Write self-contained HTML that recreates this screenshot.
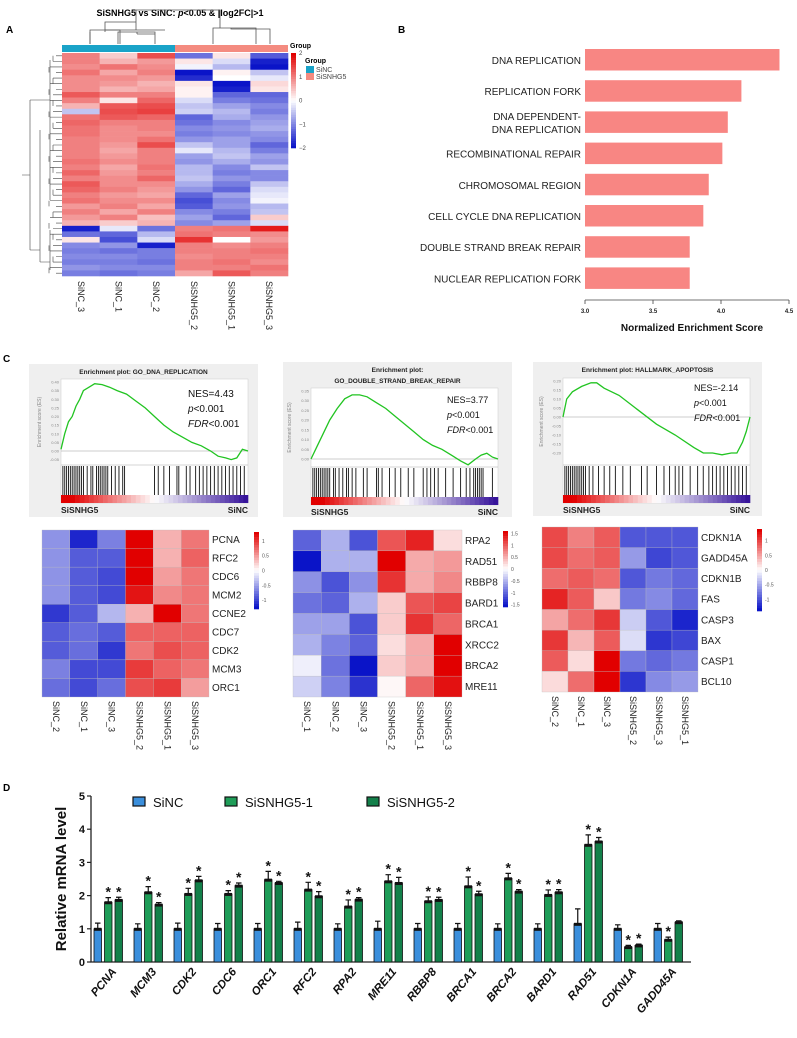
<!DOCTYPE html>
<html><head><meta charset="utf-8"><style>
html,body{margin:0;padding:0;background:#fff}
svg{display:block;font-family:"Liberation Sans",sans-serif}
</style></head><body>
<svg id="fig" width="797" height="1038" viewBox="0 0 797 1038" xmlns="http://www.w3.org/2000/svg">
<g id="pA">
<text x="6" y="33" font-size="10" font-weight="bold">A</text>
<text x="180" y="16" font-size="9" font-weight="bold" text-anchor="middle">SiSNHG5 vs SiNC: <tspan font-style="italic">p</tspan>&lt;0.05 &amp; |log2FC|&gt;1</text>
<rect x="62" y="45" width="113" height="7" fill="#1aa3c8"/>
<rect x="175" y="45" width="113" height="7" fill="#f48b80"/>
<path d="M118,44V32H155V44 M137,32V34H137 M90,44V32 M137,34V34 M137,34H155 M105,32V30H165 M213,44V28H256V44 M231,28V29H270V44 M242,29V29 M136,30V10H220V28" fill="none" stroke="#555" stroke-width="0.8"/>
<path d="M90,44V30H120V44 M105,30V22H136" fill="none" stroke="#555" stroke-width="0.8"/>
<text x="290" y="48" font-size="7" font-weight="bold">Group</text>
<text x="305" y="63" font-size="7" font-weight="bold">Group</text>
<rect x="306" y="66" width="8" height="7" fill="#1aa3c8"/>
<text x="316" y="72" font-size="7" fill="#444">SiNC</text>
<rect x="306" y="73" width="8" height="7" fill="#f48b80"/>
<text x="316" y="79" font-size="7" fill="#444">SiSNHG5</text>
</g>
<g id="pB">
<text x="398" y="33" font-size="10" font-weight="bold">B</text>
</g>
<g id="pC">
<text x="3" y="362" font-size="10" font-weight="bold">C</text>
</g>
<g id="pD">
<text x="3" y="791" font-size="10" font-weight="bold">D</text>
</g>
</svg>
<script>
var NS="http://www.w3.org/2000/svg";
function mk(tag,attrs,parent){var e=document.createElementNS(NS,tag);for(var k in attrs)e.setAttribute(k,attrs[k]);(parent||document.getElementById('fig')).appendChild(e);return e;}
function col(v,m){var t=Math.max(-1,Math.min(1,v/m));if(t>=0){return 'rgb('+Math.round(255-30*t)+','+Math.round(255-255*t)+','+Math.round(255-255*t)+')';}t=-t;return 'rgb('+Math.round(255-245*t)+','+Math.round(255-235*t)+','+Math.round(255-55*t)+')';}

/* ---------- Panel A data ---------- */
var aCols=["SiNC_3","SiNC_1","SiNC_2","SiSNHG5_2","SiSNHG5_1","SiSNHG5_3"];
var aRows=[[1.0,0.4,1.4,-1.2,0.2,-1.4],[1.0,0.6,0.8,0.2,-0.3,-1.9],[0.9,1.1,0.9,-0.1,-0.6,-2],[1.1,0.7,1.0,-2,0.1,-0.5],[0.9,0.9,0.8,-1.8,0.0,-0.2],[0.9,0.8,0.6,0.2,-2,0.3],[0.9,0.6,0.7,0.1,-1.9,0.2],[1.3,1.0,1.0,0.1,-1.3,-1.3],[1.0,0.2,1.2,-0.3,-1.1,-1.2],[0.6,1.3,1.4,-0.5,-0.8,-1.0],[-0.5,1.4,1.5,-0.4,-0.6,-1.1],[1.1,1.3,1.2,-1.3,-0.7,-0.9],[1.2,1.0,1.0,-1.2,-1.0,-0.8],[1.1,0.9,1.0,-1.0,-0.9,-0.7],[1.1,0.9,0.9,-1.1,-1.0,-0.9],[1.0,0.9,1.1,-0.9,-0.8,-1.0],[1.0,0.8,1.4,-0.5,-0.8,-1.3],[1.0,0.7,1.0,-0.2,-0.6,-1.1],[1.0,0.8,1.0,-0.8,-0.5,-0.8],[1.1,0.9,1.0,-0.9,-0.7,-0.9],[1.0,0.7,1.1,-0.6,-1.0,-0.5],[1.2,0.8,1.0,-0.6,-1.1,-1.0],[1.0,0.9,1.2,-0.5,-0.9,-1.0],[1.3,0.9,0.9,-0.7,-1.1,-0.5],[1.2,1.0,0.8,-0.9,-1.3,-0.3],[1.0,0.8,0.7,-1.3,-0.8,-0.2],[1.1,0.9,0.9,-1.5,-1.0,-0.1],[0.8,1.0,0.7,-1.4,-0.9,-0.6],[1.0,0.7,1.0,-1.0,-1.1,-0.5],[0.8,1.0,0.5,-0.8,-1.3,0.4],[0.6,0.4,0.6,-1.0,-0.8,-0.3],[-1.9,-0.2,-1.2,1.0,1.1,1.8],[-1.2,-1.3,-0.6,1.1,1.0,0.9],[0.2,-1.5,-0.3,1.6,0.0,0.8],[-1.0,-0.9,-1.9,1.0,0.9,1.0],[-1.1,-1.2,-1.1,1.0,1.0,1.1],[-1.0,-1.0,-1.1,0.9,1.0,1.0],[-1.1,-1.1,-1.2,1.0,1.1,0.9],[-0.9,-1.0,-1.0,1.0,1.0,1.1],[-1.1,-1.2,-1.1,0.7,1.3,1.0]];
var aTicks=[2,1,0,-1,-2];

/* ---------- Panel B data ---------- */
var bTerms=["DNA REPLICATION","REPLICATION FORK","DNA DEPENDENT-|DNA REPLICATION","RECOMBINATIONAL REPAIR","CHROMOSOMAL REGION","CELL CYCLE DNA REPLICATION","DOUBLE STRAND BREAK REPAIR","NUCLEAR REPLICATION FORK"];
var bNES=[4.43,4.15,4.05,4.01,3.91,3.87,3.77,3.77];
var bTicks=[3.0,3.5,4.0,4.5];

/* ---------- Panel C data ---------- */
var g1X=[0,0.02,0.04,0.06,0.08,0.1,0.12,0.15,0.18,0.22,0.26,0.3,0.35,0.4,0.45,0.5,0.55,0.6,0.65,0.7,0.75,0.8,0.84,0.88,0.91,0.94,0.97,1.0];
var g1Y=[0.01,0.1,0.17,0.2,0.26,0.3,0.35,0.37,0.39,0.385,0.37,0.35,0.33,0.29,0.25,0.2,0.15,0.11,0.08,0.05,0.03,0.0,-0.03,-0.04,-0.05,-0.04,0.01,0.0];
var g2X=[0,0.03,0.06,0.1,0.14,0.18,0.22,0.26,0.3,0.35,0.4,0.45,0.5,0.55,0.6,0.65,0.7,0.75,0.8,0.84,0.88,0.91,0.94,0.97,1.0];
var g2Y=[0,0.06,0.12,0.2,0.26,0.31,0.33,0.33,0.32,0.29,0.26,0.22,0.18,0.14,0.1,0.07,0.05,0.02,-0.01,-0.03,0.0,0.02,0.03,0.01,0.0];
var g3X=[0,0.02,0.05,0.1,0.15,0.18,0.22,0.3,0.4,0.5,0.6,0.7,0.75,0.8,0.85,0.9,0.93,0.96,0.98,1.0];
var g3Y=[0.0,0.1,0.14,0.17,0.19,0.19,0.16,0.12,0.04,-0.04,-0.1,-0.17,-0.2,-0.2,-0.21,-0.2,-0.2,-0.14,-0.08,0.0];
var h1=[0.01,0.02,0.03,0.04,0.05,0.06,0.07,0.08,0.09,0.1,0.11,0.12,0.14,0.16,0.17,0.19,0.2,0.21,0.22,0.23,0.24,0.25,0.27,0.29,0.31,0.33,0.34,0.5,0.52,0.55,0.58,0.62,0.63,0.67,0.69,0.72,0.74,0.76,0.78,0.8,0.82,0.84,0.86,0.88,0.9,0.92,0.94,0.96,0.98];
var h2=[0.01,0.02,0.03,0.04,0.05,0.06,0.07,0.08,0.09,0.1,0.12,0.13,0.15,0.17,0.19,0.2,0.22,0.24,0.28,0.3,0.35,0.36,0.38,0.42,0.45,0.48,0.52,0.55,0.6,0.62,0.64,0.66,0.68,0.72,0.76,0.8,0.83,0.85,0.87,0.88,0.89,0.9,0.91,0.92,0.97];
var h3=[0.01,0.02,0.03,0.04,0.05,0.06,0.07,0.08,0.09,0.1,0.11,0.12,0.14,0.16,0.19,0.22,0.25,0.28,0.32,0.36,0.42,0.45,0.5,0.54,0.57,0.6,0.62,0.64,0.68,0.72,0.75,0.78,0.8,0.82,0.84,0.86,0.88,0.9,0.92,0.94,0.96,0.98];
var c1Genes=["PCNA","RFC2","CDC6","MCM2","CCNE2","CDC7","CDK2","MCM3","ORC1"];
var c1Cols=["SiNC_2","SiNC_1","SiNC_3","SiSNHG5_2","SiSNHG5_1","SiSNHG5_3"];
var c1Vals=[[-0.6,-1.2,-0.7,1.3,0.4,0.7],[-0.6,-0.9,-0.9,1.3,0.4,0.8],[-0.6,-0.9,-1.0,1.3,0.5,0.7],[-0.6,-0.9,-1.0,1.2,0.6,0.7],[-1.1,-0.9,-0.4,0.4,1.3,0.7],[-0.9,-0.8,-0.9,0.8,0.8,0.8],[-0.9,-0.8,-1.1,0.7,0.9,0.8],[-0.7,-1.0,-1.0,1.0,0.8,0.7],[-0.8,-1.0,-0.8,0.9,1.0,0.5]];
var c2Genes=["RPA2","RAD51","RBBP8","BARD1","BRCA1","XRCC2","BRCA2","MRE11"];
var c2Cols=["SiNC_1","SiNC_2","SiNC_3","SiSNHG5_2","SiSNHG5_1","SiSNHG5_3"];
var c2Vals=[[-1.0,-0.5,-1.1,1.0,1.3,0.2],[-1.5,-0.5,-0.5,1.5,0.5,0.6],[-0.7,-1.1,-0.7,1.2,0.5,0.7],[-0.9,-1.0,-0.5,0.3,1.0,1.1],[-0.6,-0.6,-1.1,0.3,1.2,0.9],[-0.5,-0.8,-1.0,0.2,0.5,1.5],[-0.1,-0.9,-1.5,0.3,0.5,1.5],[-0.3,-0.8,-1.3,0.05,0.9,1.4]];
var c3Genes=["CDKN1A","GADD45A","CDKN1B","FAS","CASP3","BAX","CASP1","BCL10"];
var c3Cols=["SiNC_2","SiNC_1","SiNC_3","SiSNHG5_2","SiSNHG5_3","SiSNHG5_1"];
var c3Vals=[[1.0,0.7,0.9,-1.0,-1.0,-1.0],[1.0,0.8,0.9,-0.6,-1.1,-1.0],[0.8,0.9,0.8,-1.0,-0.8,-0.9],[1.2,0.9,0.3,-0.8,-0.7,-0.9],[0.5,0.8,1.1,-0.3,-1.0,-1.3],[1.1,0.4,0.9,-0.2,-1.2,-1.1],[0.9,0.2,1.4,-0.8,-0.9,-0.8],[0.2,0.8,1.5,-1.2,-0.7,-0.6]];

/* ---------- Panel D data ---------- */
var dGenes=["PCNA","MCM3","CDK2","CDC6","ORC1","RFC2","RPA2","MRE11","RBBP8","BRCA1","BRCA2","BARD1","RAD51","CDKN1A","GADD45A"];
var dSiNC=[1,1,1,1,1,1,1,1,1,1,1,1,1.15,1,1];
var dSi1=[1.8,2.1,2.05,2.05,2.48,2.18,1.67,2.43,1.83,2.28,2.52,2.02,3.53,0.45,0.67];
var dSi2=[1.87,1.73,2.46,2.3,2.38,1.98,1.88,2.38,1.87,2.04,2.12,2.1,3.63,0.5,1.2];
var dErrNC=[0.17,0.15,0.17,0.16,0.16,0.2,0.15,0.23,0.16,0.16,0.15,0.15,0.45,0.12,0.16];
var dErr1=[0.14,0.17,0.17,0.1,0.25,0.22,0.2,0.2,0.13,0.28,0.15,0.15,0.3,0.05,0.08];
var dErr2=[0.08,0.06,0.12,0.08,0.05,0.14,0.06,0.17,0.08,0.09,0.06,0.08,0.12,0.04,0.04];
var dStar1=[1,1,1,1,1,1,1,1,1,1,1,1,1,1,1];
var dStar2=[1,1,1,1,1,1,1,1,1,1,1,1,1,1,0];
var dTicks=[0,1,2,3,4,5];

/* ===== Panel A render ===== */
(function(){
var g=document.getElementById('pA');
var x0=62,x1=288,y0=53,y1=276,cw=(x1-x0)/aCols.length,rh=(y1-y0)/aRows.length;
aRows.forEach(function(r,i){r.forEach(function(v,j){
 var c=mk('rect',{x:x0+j*cw,y:y0+i*rh,width:cw+0.3,height:rh+0.3,fill:col(v,2)},g);
 
 
});});
/* row dendrogram */
var d='';
aRows.forEach(function(r,i){var y=y0+(i+0.5)*rh;d+='M'+x0+','+y+'H'+(x0-6-(i%3)*3);});
for(var i=0;i<aRows.length-1;i+=2){var ya=y0+(i+0.5)*rh,yb=y0+(i+1.5)*rh;var xx=x0-9-(i%4)*2;d+='M'+xx+','+ya+'V'+yb;}
d+='M50,60V200M40,130V262M50,230V270M30,100V250M22,175H30M30,100H50M30,250H40M40,262H50';
var dp=mk('path',{d:d,fill:'none',stroke:'#444','stroke-width':0.6},g);


aCols.forEach(function(n,j){
 var t=mk('text',{x:0,y:0,'font-size':9,fill:'#222',transform:'translate('+(x0+(j+0.5)*cw-3)+',281) rotate(90)'},g);
 t.textContent=n;
 
 
});
/* color bar */
var cb0=53,cb1=148;
for(var k=0;k<40;k++){var v=2-4*k/39;var s=mk('rect',{x:291,y:cb0+k*(cb1-cb0)/40,width:5,height:(cb1-cb0)/40+0.3,fill:col(v,2)},g);
 
 }
aTicks.forEach(function(v){var t=mk('text',{x:299,y:cb0+(2-v)/4*(cb1-cb0)+2,'font-size':6,fill:'#444'},g);
 t.textContent=v<0?'\u2212'+(-v):String(v);
 
 });
})();

/* ===== Panel B render ===== */
(function(){
var g=document.getElementById('pB');
var xa=585,xb=789;function sx(v){return xa+(v-3)/(1.5)*(xb-xa);}
bTerms.forEach(function(t,i){
 var y=49+i*31.2;
 var r=mk('rect',{x:sx(3),y:y,width:sx(bNES[i])-sx(3),height:21.5,fill:'#f88683'},g);
 
 
 var parts=t.split('|');
 parts.forEach(function(p,k){
  var tx=mk('text',{x:581,y:y+15+(parts.length>1?(k*13-6.5):0),'font-size':10,fill:'#222','text-anchor':'end'},g);
  tx.textContent=p;
  
  
 });
});
var ax=mk('path',{d:'M'+sx(3)+',300H'+sx(4.5),stroke:'#444','stroke-width':0.8,fill:'none'},g);


bTicks.forEach(function(v){
 var tk=mk('path',{d:'M'+sx(v)+',300V304',stroke:'#444','stroke-width':0.8},g);
 
 
 var tl=mk('text',{x:sx(v),y:313,'font-size':6,'font-weight':'bold','text-anchor':'middle',fill:'#222'},g);
 tl.textContent=v.toFixed(1);
 
 
});
var tt=mk('text',{x:(sx(3)+sx(4.5))/2+5,y:331,'font-size':10,'font-weight':'bold','text-anchor':'middle',fill:'#111'},g);
tt.textContent='Normalized Enrichment Score';


})();

/* ===== Panel C render ===== */
function gsea(cfg){
 var g=document.getElementById('pC');
 var bx=mk('rect',{x:cfg.bx,y:cfg.by,width:cfg.bw,height:cfg.bh,fill:'#efefef'},g);
 
 
 cfg.title.forEach(function(t,k){var e=mk('text',{x:cfg.bx+cfg.bw/2,y:cfg.by+10+k*11,'font-size':6.5,'font-weight':'bold','text-anchor':'middle',fill:'#222'},g);
  e.textContent=t;
  
  });
 var pa=mk('rect',{x:cfg.x0,y:cfg.top,width:cfg.x1-cfg.x0,height:cfg.hitBot-cfg.top,fill:'#fff',stroke:'#ccc','stroke-width':0.5},g);
 
 
 function sy(v){return cfg.zero-(v/cfg.ymax)*(cfg.zero-cfg.top-3);}
 function sxx(f){return cfg.x0+f*(cfg.x1-cfg.x0);}
 cfg.ticks.forEach(function(v){var l=mk('text',{x:cfg.x0-2,y:sy(v)+1.5,'font-size':4,'text-anchor':'end',fill:'#888'},g);
  l.textContent=v.toFixed(2);
  
  });
 var yl=mk('text',{x:0,y:0,'font-size':5,fill:'#888','text-anchor':'middle',transform:'translate('+(cfg.x0-20)+','+((cfg.top+cfg.curveBot)/2)+') rotate(-90)'},g);
 yl.textContent='Enrichment score (ES)';
 
 
 var zl=mk('path',{d:'M'+cfg.x0+','+sy(0)+'H'+cfg.x1,stroke:'#999','stroke-width':0.5},g);
 
 
 var sep=mk('path',{d:'M'+cfg.x0+','+cfg.curveBot+'H'+cfg.x1,stroke:'#aaa','stroke-width':0.5},g);
 
 
 var pts=cfg.xs.map(function(f,i){return sxx(f).toFixed(1)+','+sy(cfg.ys[i]).toFixed(1);}).join(' ');
 var pl=mk('polyline',{points:pts,fill:'none',stroke:'#22c422','stroke-width':1.3},g);
 
 
 cfg.hits.forEach(function(f){var h=mk('path',{d:'M'+sxx(f)+','+(cfg.curveBot+1)+'V'+(cfg.hitBot-8),stroke:'#111','stroke-width':0.9},g);
  
  });
 var n=40;for(var k=0;k<n;k++){var v=1-2*k/(n-1);var s=mk('rect',{x:sxx(k/n),y:cfg.hitBot-8,width:(cfg.x1-cfg.x0)/n+0.3,height:8,fill:v>0?col(v*1.1,1):'rgb('+Math.round(255+(v)*200)+','+Math.round(255+v*235)+','+Math.round(255+v*100)+')'},g);
  
  }
 var a=mk('text',{x:cfg.x0,y:cfg.hitBot+10,'font-size':8.5,'font-weight':'bold',fill:'#222'},g);
 a.textContent='SiSNHG5';
 
 
 var b=mk('text',{x:cfg.x1,y:cfg.hitBot+10,'font-size':8.5,'font-weight':'bold','text-anchor':'end',fill:'#222'},g);
 b.textContent='SiNC';
 
 
 cfg.stats.forEach(function(s,k){var t=mk('text',{x:cfg.sx,y:cfg.sy+k*15,'font-size':cfg.fs,fill:'#111'},g);
  if(k==0)t.textContent=s;else{var it=mk('tspan',{'font-style':'italic'},t);it.textContent=s[0];var rest=mk('tspan',{},t);rest.textContent=s[1];}
  
  });
}
gsea({bx:29,by:364,bw:229,bh:153,title:['Enrichment plot: GO_DNA_REPLICATION'],x0:61,x1:248,top:379,zero:451,curveBot:465,hitBot:503,ymax:0.40,ticks:[0.40,0.35,0.30,0.25,0.20,0.15,0.10,0.05,0.00,-0.05],xs:g1X,ys:g1Y,hits:h1,stats:['NES=4.43',['p','<0.001'],['FDR','<0.001']],sx:188,sy:397,fs:10});
gsea({bx:283,by:362,bw:229,bh:155,title:['Enrichment plot:','GO_DOUBLE_STRAND_BREAK_REPAIR'],x0:311,x1:498,top:388,zero:459,curveBot:467,hitBot:505,ymax:0.35,ticks:[0.35,0.30,0.25,0.20,0.15,0.10,0.05,0.00],xs:g2X,ys:g2Y,hits:h2,stats:['NES=3.77',['p','<0.001'],['FDR','<0.001']],sx:447,sy:403,fs:9});
gsea({bx:533,by:362,bw:229,bh:154,title:['Enrichment plot: HALLMARK_APOPTOSIS'],x0:563,x1:750,top:378,zero:417,curveBot:465,hitBot:503,ymax:0.20,ticks:[0.20,0.15,0.10,0.05,0.00,-0.05,-0.10,-0.15,-0.20],xs:g3X,ys:g3Y,hits:h3,stats:['NES=-2.14',['p','<0.001'],['FDR','<0.001']],sx:694,sy:391,fs:9});

function hm(genes,cols,vals,x0,x1,y0,y1,mx,cbx,cby0,cby1,ticks,tmax){
 var g=document.getElementById('pC');
 var cw=(x1-x0)/cols.length,rh=(y1-y0)/genes.length;
 vals.forEach(function(r,i){r.forEach(function(v,j){
  var c=mk('rect',{x:x0+j*cw,y:y0+i*rh,width:cw,height:rh,fill:col(v,mx),stroke:'#bbb','stroke-width':0.3},g);
  
  
 });
 var t=mk('text',{x:x1+3,y:y0+(i+0.5)*rh+3.5,'font-size':10,fill:'#222'},g);
 t.textContent=genes[i];
 
 
 });
 cols.forEach(function(n,j){var t=mk('text',{x:0,y:0,'font-size':9,fill:'#222',transform:'translate('+(x0+(j+0.5)*cw-3)+','+(y1+4)+') rotate(90)'},g);
  t.textContent=n;
  
  });
 for(var k=0;k<30;k++){var v=tmax-2*tmax*k/29;var s=mk('rect',{x:cbx,y:cby0+k*(cby1-cby0)/30,width:5,height:(cby1-cby0)/30+0.3,fill:col(v,tmax)},g);
  
  }
 ticks.forEach(function(v){var t=mk('text',{x:cbx+8,y:cby0+(tmax-v)/(2*tmax)*(cby1-cby0)+2,'font-size':5,fill:'#555'},g);
  t.textContent=String(v);
  
  });
}
hm(c1Genes,c1Cols,c1Vals,42,209,530,697,1.3,254,532,609,[1,0.5,0,-0.5,-1],1.3);
hm(c2Genes,c2Cols,c2Vals,293,462,530,697,1.5,503,531,607,[1.5,1,0.5,0,-0.5,-1,-1.5],1.6);
hm(c3Genes,c3Cols,c3Vals,542,698,527,692,1.4,757,529,611,[1,0.5,0,-0.5,-1],1.4);

/* ===== Panel D render ===== */
(function(){
var g=document.getElementById('pD');
var ax0=91,ax1=691,yb=962,yt=796;
function sy(v){return yb-v/5*(yb-yt);}
var gw=(ax1-ax0)/dGenes.length;
var yax=mk('path',{d:'M'+ax0+','+yt+'V'+yb+'H'+ax1,stroke:'#222','stroke-width':1.3,fill:'none'},g);


dTicks.forEach(function(v){
 var tk=mk('path',{d:'M'+(ax0-4)+','+sy(v)+'H'+ax0,stroke:'#222','stroke-width':1.2},g);
 
 
 var tl=mk('text',{x:ax0-6,y:sy(v)+4,'font-size':11,'font-weight':'bold','text-anchor':'end',fill:'#111'},g);
 tl.textContent=String(v);
 
 
});
var yt2=mk('text',{x:0,y:0,'font-size':15,'font-weight':'bold','text-anchor':'middle',fill:'#111',transform:'translate(66,'+((yb+yt)/2)+') rotate(-90)'},g);
yt2.textContent='Relative mRNA level';


var series=[[dSiNC,dErrNC,'#3b8fdc',null],[dSi1,dErr1,'#1f9d58',dStar1],[dSi2,dErr2,'#13804a',dStar2]];
dGenes.forEach(function(n,i){
 series.forEach(function(s,k){
  var x=ax0+i*gw+3+k*10.5,w=7.5,v=s[0][i],e=s[1][i];
  var b=mk('rect',{x:x,y:sy(v),width:w,height:sy(0)-sy(v),fill:s[2],stroke:'#111','stroke-width':0.8},g);
  
  
  var eb=mk('path',{d:'M'+(x+w/2)+','+sy(v)+'V'+sy(v+e)+'M'+(x+1)+','+sy(v+e)+'H'+(x+w-1),stroke:'#111','stroke-width':1.2},g);
  
  
  var top=mk('rect',{x:x,y:sy(v)-1,width:w,height:3,fill:'#111'},g);
  
  
  if(s[3]&&s[3][i]){var st=mk('text',{x:x+w/2,y:sy(v+e)-1,'font-size':14,'font-weight':'bold','text-anchor':'middle',fill:'#111'},g);
   st.textContent='*';
   
   }
 });
 var lb=mk('text',{x:0,y:0,'font-size':11.5,'font-weight':'bold','font-style':'italic','text-anchor':'end',fill:'#111',transform:'translate('+(ax0+i*gw+gw/2+6)+',972) rotate(-50)'},g);
 lb.textContent=n;
 
 
});
var leg=[['SiNC','#3b8fdc',133],['SiSNHG5-1','#1f9d58',225],['SiSNHG5-2','#13804a',367]];
leg.forEach(function(l){
 var r=mk('rect',{x:l[2],y:797,width:12,height:9,fill:l[1],stroke:'#111','stroke-width':1.2},g);
 
 
 var t=mk('text',{x:l[2]+20,y:807,'font-size':13,fill:'#111'},g);
 t.textContent=l[0];
 
 
});
})();
</script>
</body></html>
